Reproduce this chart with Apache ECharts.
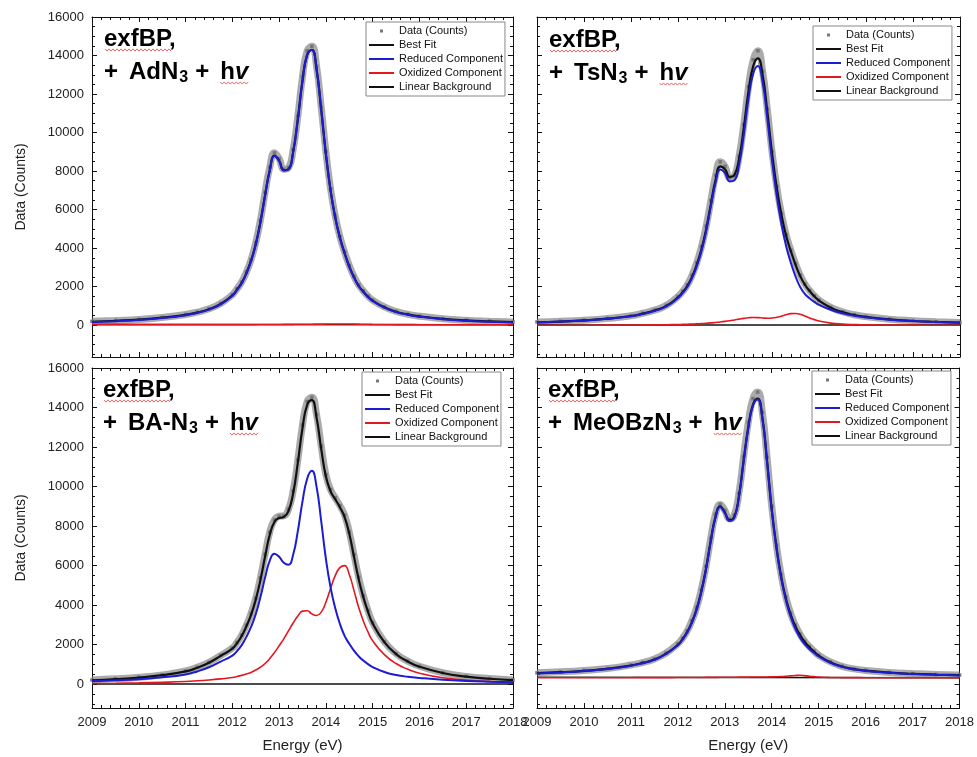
<!DOCTYPE html>
<html>
<head>
<meta charset="utf-8">
<title>exfBP spectra</title>
<script src="https://cdn.jsdelivr.net/npm/echarts@6.0.0/dist/echarts.min.js"></script>
<style>
  html, body { margin: 0; padding: 0; background: #fff; }
  #chart { width: 977px; height: 757px; }
</style>
</head>
<body>
<div id="chart"></div>
<script>
// energy grid shared by every panel (denser around the two peaks)
const energy = [2009, 2009.5, 2010, 2010.5, 2011, 2011.25, 2011.5, 2011.75, 2012,
  2012.1, 2012.2, 2012.3, 2012.4, 2012.5, 2012.6, 2012.7, 2012.8, 2012.9,
  2013, 2013.1, 2013.2, 2013.3, 2013.4, 2013.5, 2013.6, 2013.7, 2013.8, 2013.9,
  2014, 2014.1, 2014.2, 2014.3, 2014.4, 2014.5, 2014.6, 2014.7, 2014.8, 2014.9,
  2015, 2015.25, 2015.5, 2015.75, 2016, 2016.5, 2017, 2017.5, 2018];
const bgEnergy = [2009, 2018];

// exfBP + AdN3 + hv
const countsAd = [200, 245, 300, 405, 560, 680, 850, 1130, 1580, 1890, 2240, 2760, 3400, 4280, 5450, 6900, 8200, 8950, 8650, 8100, 8180, 9120, 10850, 12900, 14250, 14480, 13450, 11320, 9000, 7080, 5660, 4600, 3800, 3100, 2540, 2090, 1780, 1510, 1300, 950, 715, 570, 470, 340, 260, 210, 170];
const fitAd = [180, 230, 290, 390, 540, 660, 830, 1100, 1550, 1850, 2200, 2700, 3350, 4200, 5350, 6750, 8050, 8800, 8550, 8050, 8100, 9000, 10700, 12700, 14050, 14300, 13300, 11200, 8900, 7000, 5600, 4550, 3750, 3050, 2500, 2050, 1750, 1480, 1280, 930, 700, 560, 460, 330, 250, 200, 160];
const reducedAd = [162, 212, 272, 372, 522, 642, 812, 1082, 1532, 1832, 2182, 2682, 3332, 4182, 5332, 6732, 8032, 8782, 8532, 8032, 8082, 8982, 10682, 12682, 14032, 14282, 13282, 11182, 8882, 6982, 5582, 4532, 3732, 3032, 2482, 2032, 1732, 1462, 1262, 912, 682, 542, 442, 312, 232, 182, 142];
const oxidizedAd = [30, 30, 30, 30, 30, 30, 30, 30, 30, 31, 31, 32, 32, 33, 34, 35, 36, 38, 40, 42, 44, 46, 48, 50, 52, 54, 56, 58, 60, 62, 64, 66, 66, 64, 60, 56, 52, 48, 44, 38, 33, 30, 28, 26, 25, 25, 25];
const backgroundAd = [40, 20];

// exfBP + TsN3 + hv
const countsTs = [170, 205, 262, 355, 495, 620, 780, 1030, 1490, 1760, 2100, 2600, 3250, 4080, 5150, 6480, 7780, 8480, 8250, 7650, 7750, 8780, 10420, 12380, 13780, 14250, 13180, 11220, 9020, 7200, 5800, 4700, 3900, 3200, 2600, 2140, 1800, 1530, 1300, 930, 700, 545, 445, 315, 235, 180, 140];
const fitTs = [150, 190, 250, 340, 480, 600, 760, 1000, 1450, 1720, 2050, 2520, 3150, 3950, 5000, 6300, 7550, 8250, 8100, 7700, 7800, 8650, 10250, 12150, 13450, 13850, 13000, 11100, 8950, 7150, 5750, 4650, 3850, 3150, 2550, 2100, 1780, 1500, 1280, 910, 680, 530, 430, 300, 220, 170, 130];
const reducedTs = [150, 190, 250, 335, 470, 585, 740, 975, 1415, 1678, 2000, 2460, 3080, 3865, 4900, 6180, 7405, 8080, 7900, 7465, 7525, 8335, 9895, 11765, 13050, 13455, 12625, 10735, 8575, 6740, 5280, 4110, 3250, 2540, 1980, 1620, 1400, 1210, 1060, 800, 620, 495, 410, 290, 215, 170, 130];
const oxidizedTs = [0, 0, 0, 5, 10, 15, 20, 25, 35, 42, 50, 60, 70, 85, 100, 120, 145, 170, 200, 235, 275, 315, 355, 385, 400, 395, 375, 365, 375, 410, 470, 540, 600, 610, 570, 480, 380, 290, 220, 110, 60, 35, 20, 10, 5, 0, 0];
const backgroundTs = [10, 5];

// exfBP + BA-N3 + hv
const countsBa = [220, 275, 350, 475, 670, 860, 1110, 1460, 1830, 2120, 2490, 2990, 3580, 4360, 5380, 6580, 7700, 8320, 8500, 8520, 8850, 9780, 11350, 13120, 14300, 14520, 13640, 12050, 10600, 9850, 9430, 9040, 8560, 7700, 6560, 5420, 4480, 3740, 3120, 2160, 1550, 1170, 910, 585, 400, 290, 220];
const fitBa = [200, 260, 340, 460, 650, 835, 1090, 1435, 1800, 2080, 2440, 2930, 3510, 4280, 5270, 6460, 7560, 8210, 8410, 8460, 8760, 9660, 11210, 12960, 14130, 14370, 13490, 11910, 10510, 9760, 9360, 8960, 8460, 7610, 6460, 5330, 4410, 3680, 3080, 2130, 1530, 1150, 890, 570, 390, 280, 210];
const reducedBa = [150, 200, 260, 350, 500, 650, 860, 1150, 1450, 1680, 1980, 2400, 2900, 3550, 4400, 5400, 6250, 6600, 6450, 6150, 6050, 6550, 7750, 9250, 10400, 10800, 10000, 8250, 6350, 4900, 3850, 3050, 2450, 2050, 1700, 1420, 1200, 1020, 870, 620, 470, 380, 320, 230, 170, 130, 100];
const oxidizedBa = [40, 50, 70, 100, 140, 175, 220, 275, 340, 390, 450, 520, 600, 720, 860, 1050, 1300, 1600, 1950, 2300, 2700, 3100, 3450, 3700, 3720, 3560, 3480, 3650, 4150, 4850, 5500, 5900, 6000, 5550, 4750, 3900, 3200, 2650, 2200, 1500, 1050, 760, 560, 330, 210, 140, 100];
const backgroundBa = [20, 10];

// exfBP + MeOBzN3 + hv
const countsMe = [580, 630, 700, 800, 975, 1100, 1280, 1580, 2050, 2330, 2700, 3220, 3880, 4800, 5970, 7380, 8600, 9100, 8800, 8360, 8550, 9650, 11500, 13250, 14450, 14780, 13750, 11480, 9000, 7050, 5530, 4420, 3600, 3000, 2540, 2180, 1910, 1680, 1470, 1130, 910, 780, 700, 600, 540, 495, 465];
const fitMe = [560, 610, 680, 780, 950, 1080, 1250, 1550, 2000, 2280, 2650, 3150, 3800, 4700, 5850, 7250, 8450, 9000, 8700, 8300, 8450, 9500, 11300, 13000, 14150, 14450, 13500, 11300, 8850, 6950, 5450, 4350, 3550, 2950, 2500, 2150, 1880, 1650, 1450, 1110, 900, 770, 690, 590, 530, 490, 460];
const reducedMe = [550, 600, 670, 768, 936, 1065, 1234, 1532, 1980, 2259, 2628, 3127, 3776, 4674, 5823, 7222, 8420, 8968, 8666, 8264, 8412, 9460, 11258, 12956, 14104, 14402, 13450, 11248, 8795, 6890, 5380, 4265, 3445, 2825, 2365, 2030, 1790, 1585, 1405, 1085, 882, 755, 676, 578, 520, 480, 450];
const oxidizedMe = [330, 330, 330, 332, 334, 335, 336, 338, 340, 341, 342, 343, 344, 346, 347, 348, 350, 352, 354, 356, 358, 360, 362, 364, 366, 368, 370, 372, 375, 380, 390, 405, 425, 445, 455, 440, 410, 385, 365, 345, 338, 335, 334, 332, 330, 330, 330];
const backgroundMe = [350, 330];

const seriesNames = ['Data (Counts)', 'Best Fit', 'Reduced Component', 'Oxidized Component', 'Linear Background'];
const reagents = ['AdN', 'TsN', 'BA-N', 'MeOBzN'];

const FONT = '"Liberation Sans", Arial, sans-serif';
const BLUE = '#1c1cd2';
const RED = '#e4161e';
const INK = '#111';

const panels = [
  { grid: { left: 92, top: 17, width: 421, height: 340 }, yMin: -1650, xLabels: false, yLabels: true,
    counts: countsAd, fit: fitAd, reduced: reducedAd, oxidized: oxidizedAd, bg: backgroundAd,
    legendAt: [366, 22], titleAt: [104, 39] },
  { grid: { left: 537, top: 17, width: 423, height: 340 }, yMin: -1650, xLabels: false, yLabels: false,
    counts: countsTs, fit: fitTs, reduced: reducedTs, oxidized: oxidizedTs, bg: backgroundTs,
    legendAt: [813, 26], titleAt: [549, 40] },
  { grid: { left: 92, top: 368, width: 421, height: 340 }, yMin: -1200, xLabels: true, yLabels: true,
    counts: countsBa, fit: fitBa, reduced: reducedBa, oxidized: oxidizedBa, bg: backgroundBa,
    legendAt: [362, 372], titleAt: [103, 390] },
  { grid: { left: 537, top: 368, width: 423, height: 340 }, yMin: -1200, xLabels: true, yLabels: false,
    counts: countsMe, fit: fitMe, reduced: reducedMe, oxidized: oxidizedMe, bg: backgroundMe,
    legendAt: [812, 371], titleAt: [548, 390] }
];

const pairs = (xs, ys) => ys.map((y, i) => [xs[i], y]);

// legend icons: tiny corner dots pin the bounding box so the shape keeps its size
const DOT_ICON = 'path://M0,0h0.01v0.01h-0.01z M11,4.5h3v3h-3z M24.99,11.99h0.01v0.01h-0.01z';
const LINE_ICON = 'path://M0,0h0.01v0.01h-0.01z M0,5.1h25v1.8h-25z M24.99,11.99h0.01v0.01h-0.01z';

function xAxisFor(g, pos, showLabels) {
  return {
    type: 'value', gridIndex: g, position: pos, min: 2009, max: 2018, interval: 1,
    axisLine: { onZero: false, lineStyle: { color: INK, width: 1 } },
    axisTick: { inside: true, length: 5, lineStyle: { color: INK } },
    minorTick: { show: true, splitNumber: 5, length: 3, lineStyle: { color: INK } },
    splitLine: { show: false },
    axisLabel: { show: showLabels, fontSize: 13, color: '#222', fontFamily: FONT, margin: 8, formatter: v => String(v) },
    name: showLabels ? 'Energy (eV)' : '', nameLocation: 'middle', nameGap: 30,
    nameTextStyle: { fontSize: 15, color: '#222', fontFamily: FONT }
  };
}

function yAxisFor(g, pos, yMin, showLabels, minor) {
  return {
    type: 'value', gridIndex: g, position: pos, min: yMin, max: 16000,
    splitNumber: minor ? 35 : 9,
    axisLine: { show: !minor, onZero: false, lineStyle: { color: INK, width: 1 } },
    axisTick: { inside: true, length: minor ? 3 : 5, lineStyle: { color: INK } },
    splitLine: { show: false },
    axisLabel: {
      show: showLabels && !minor, fontSize: 13, color: '#222', fontFamily: FONT, margin: 8,
      formatter: v => (v % 2000 === 0 ? String(v) : '')
    },
    name: showLabels && !minor ? 'Data (Counts)' : '', nameLocation: 'middle', nameGap: 64,
    nameTextStyle: { fontSize: 14, color: '#222', fontFamily: FONT }
  };
}

function seriesFor(p, g) {
  const base = {
    type: 'line', xAxisIndex: 2 * g, yAxisIndex: 4 * g, smooth: 0.5,
    symbol: 'none', silent: true, animation: false
  };
  return [
    Object.assign({}, base, {
      name: seriesNames[0], data: pairs(energy, p.counts), symbol: 'rect', symbolSize: 3.5, showSymbol: true,
      itemStyle: { color: '#777' }, lineStyle: { color: 'rgba(115,115,115,0.6)', width: 7 }, z: 2
    }),
    Object.assign({}, base, {
      name: seriesNames[1], data: pairs(energy, p.fit),
      itemStyle: { color: INK }, lineStyle: { color: INK, width: 2.2 }, z: 3
    }),
    Object.assign({}, base, {
      name: seriesNames[4], data: pairs(bgEnergy, p.bg), smooth: false,
      itemStyle: { color: INK }, lineStyle: { color: INK, width: 1.5 }, z: 3
    }),
    Object.assign({}, base, {
      name: seriesNames[3], data: pairs(energy, p.oxidized),
      itemStyle: { color: RED }, lineStyle: { color: RED, width: 1.6 }, z: 4
    }),
    Object.assign({}, base, {
      name: seriesNames[2], data: pairs(energy, p.reduced),
      itemStyle: { color: BLUE }, lineStyle: { color: BLUE, width: 2 }, z: 5
    })
  ];
}

function legendFor(p) {
  return {
    orient: 'vertical', left: p.legendAt[0], top: p.legendAt[1], itemGap: 2, itemWidth: 25, itemHeight: 12,
    padding: [3, 2, 3, 3], borderColor: '#888', borderWidth: 1, backgroundColor: '#fff',
    selectedMode: false, z: 10,
    textStyle: { fontSize: 11, color: INK, fontFamily: FONT },
    data: seriesNames.map((n, i) => ({ name: n, icon: i === 0 ? DOT_ICON : LINE_ICON }))
  };
}

function squiggle(x0, x1, y) {
  const pts = [];
  for (let x = x0, i = 0; x <= x1; x += 2, i++) pts.push([x, y + (i % 2 ? 1.1 : -1.1)]);
  return { type: 'polyline', shape: { points: pts }, style: { stroke: '#e04040', lineWidth: 0.8, fill: null }, silent: true, z: 20 };
}

const TITLE_SIZE = 24;
const SUB_SIZE = 16;
const PLUS_GAP = [7, 11];
const titleStyle = { fontSize: TITLE_SIZE, fontWeight: 'bold', fontFamily: FONT, fill: '#000', lineHeight: 28 };
const titleRich = {
  b: titleStyle,
  p: Object.assign({}, titleStyle, { padding: [0, PLUS_GAP[1], 0, PLUS_GAP[0]] }),
  q: Object.assign({}, titleStyle, { padding: [0, PLUS_GAP[1], 0, 0] }),
  s: { fontSize: SUB_SIZE, fontWeight: 'bold', fontFamily: FONT, fill: '#000', lineHeight: 14, verticalAlign: 'bottom', padding: [0, 0, 0, 1] },
  i: Object.assign({}, titleStyle, { fontStyle: 'italic' })
};

const graphics = [];
panels.forEach((p, g) => {
  const [tx, ty] = p.titleAt;
  graphics.push({
    type: 'text', x: tx, y: ty, z: 20, silent: true,
    style: { text: '{b|exfBP,}', rich: titleRich, verticalAlign: 'middle' }
  });
  graphics.push({
    type: 'text', x: tx, y: ty + 33, z: 20, silent: true,
    style: { text: '{q|+}{b|' + reagents[g] + '}{s|3}{p|+}{b|h}{i|v}', rich: titleRich, verticalAlign: 'middle' }
  });
});

// red spell-check squiggles under "exfBP" and "hv", placed from measured text widths
const ctx = document.createElement('canvas').getContext('2d');
function measure(txt, size, style) {
  ctx.font = style + ' ' + size + 'px ' + FONT;
  return ctx.measureText(txt).width;
}
panels.forEach((p, g) => {
  const [tx, ty] = p.titleAt;
  graphics.push(squiggle(tx + 1, tx + measure('exfBP', TITLE_SIZE, 'bold'), ty + 11));
  const plus = measure('+', TITLE_SIZE, 'bold');
  const wPre = plus + PLUS_GAP[1] + measure(reagents[g], TITLE_SIZE, 'bold') + 1 + measure('3', SUB_SIZE, 'bold')
    + PLUS_GAP[0] + plus + PLUS_GAP[1];
  const wHv = measure('h', TITLE_SIZE, 'bold') + measure('v', TITLE_SIZE, 'italic bold');
  graphics.push(squiggle(tx + wPre, tx + wPre + wHv, ty + 44));
});

const option = {
  backgroundColor: '#fff',
  animation: false,
  grid: panels.map(p => Object.assign({ containLabel: false }, p.grid)),
  xAxis: [],
  yAxis: [],
  series: [],
  legend: panels.map(legendFor),
  graphic: graphics
};

panels.forEach((p, g) => {
  option.xAxis.push(xAxisFor(g, 'bottom', p.xLabels));
  option.xAxis.push(xAxisFor(g, 'top', false));
  option.yAxis.push(yAxisFor(g, 'left', p.yMin, p.yLabels, false));
  option.yAxis.push(yAxisFor(g, 'left', p.yMin, false, true));
  option.yAxis.push(yAxisFor(g, 'right', p.yMin, false, false));
  option.yAxis.push(yAxisFor(g, 'right', p.yMin, false, true));
  option.series.push(...seriesFor(p, g));
});

const chart = echarts.init(document.getElementById('chart'), null, { renderer: 'canvas' });
chart.setOption(option);
</script>
</body>
</html>
